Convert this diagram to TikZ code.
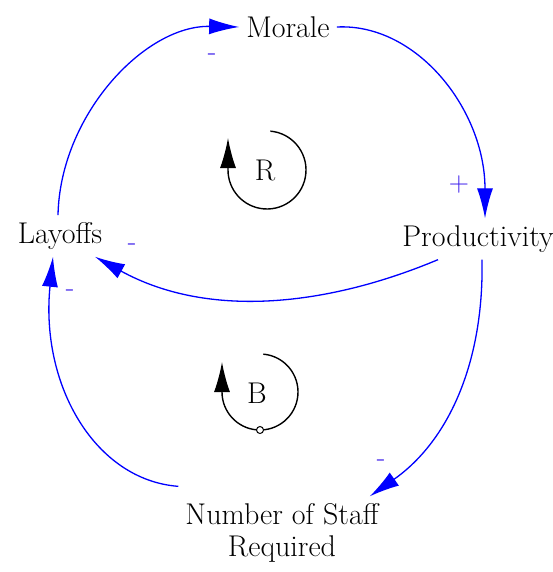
\documentclass[tikz,border=0pt]{standalone}
\usepackage{xcolor}
\usetikzlibrary{arrows.meta,positioning,calc}
\definecolor{polcol}{RGB}{60,30,235}

\begin{document}
\begin{tikzpicture}[x=1pt, y=-1pt,
    var/.style={rectangle, inner sep=7pt, align=center, font=\rmfamily\fontsize{30}{32}\selectfont},
    link/.style={-{Latex[length=30pt,width=16pt]}, blue, line width=1.3pt},
    loop/.style={-{Latex[length=30pt,width=16pt]}, black, line width=1.4pt},
    pol/.style={text=polcol, font=\rmfamily\fontsize{28}{28}\selectfont, inner sep=0pt}]
  \useasboundingbox (0,0) rectangle (553,572);
  % variables
  \node[var] (mor)  at (288,27)  {Morale};
  \node[var] (lay)  at (60,236)  {Layoffs};
  \node[var] (prod) at (478,239) {Productivity};
  \node[var] (num)  at (282,533) {Number of Staff\\Required};
  % links
  \draw[link] ([xshift=-2]lay.north) .. controls (60,115) and (145,25) .. (mor.west);
  \draw[link] (mor.east) .. controls (417,23) and (485,110) .. ([xshift=7]prod.north);
  \draw[link] ([xshift=-40]prod.south) .. controls (330,305) and (210,320) .. ([xshift=35]lay.south);
  \draw[link] ([xshift=4]prod.south) .. controls (484,360) and (450,440) .. ([xshift=-16]num.north east);
  \draw[link] ([yshift=10]num.north west) .. controls (95,480) and (40,385) .. ([xshift=-7]lay.south);
  % polarities
  \node[pol] (p1) at (212,57)  {-};
  \node[pol] (p2) at (459,185) {+};
  \node[pol] (p3) at (132,247) {-};
  \node[pol] (p4) at (70,293)  {-};
  \node[pol] (p5) at (381,463) {-};
  % loops
  \draw[loop] (267,170) ++(275:39) arc[start angle=275, end angle=540, radius=39] -- ++(0,-32);
  \node[font=\rmfamily\fontsize{30}{32}\selectfont] (rl) at (265,170) {R};
  \draw[loop] (260,392) ++(275:38) arc[start angle=275, end angle=540, radius=38] -- ++(0,-30);
  \draw[line width=1pt, fill=white] (260,430) circle (3.5);
  \node[font=\rmfamily\fontsize{30}{32}\selectfont] (bl) at (257,393) {B};
\end{tikzpicture}
\end{document}
